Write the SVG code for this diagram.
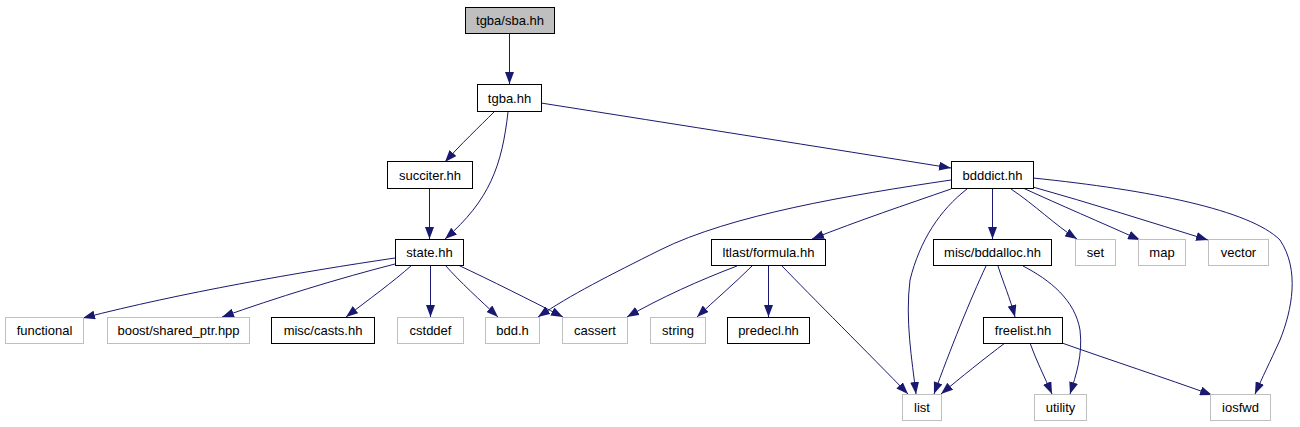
<svg xmlns="http://www.w3.org/2000/svg" width="1300" height="427" viewBox="0 0 1300 427">
<style>
.n rect{fill:#fff;stroke:#000;stroke-width:1}
.n.g rect{stroke:#bfbfbf}
.n.root rect{fill:#bfbfbf}
.n text{font-family:"Liberation Sans",Arial,sans-serif;font-size:13px;fill:#000;text-anchor:middle}
#edges path{fill:none;stroke:#191970;stroke-width:1}
</style>
<defs>
<marker id="ah" markerUnits="userSpaceOnUse" viewBox="0 0 12 9" refX="12" refY="4.5" markerWidth="12" markerHeight="9" orient="auto">
<path d="M0,0 L12,4.5 L0,9 z" fill="#191970" stroke="none"/>
</marker>
</defs>
<rect width="1300" height="427" fill="#fff"/>
<g id="edges">
<path d="M509.5,33 L509.5,84" marker-end="url(#ah)"/>
<path d="M494,112 C480,126 460,145 445,162" marker-end="url(#ah)"/>
<path d="M508,112 C502,165 490,200 445,239" marker-end="url(#ah)"/>
<path d="M429.5,189 L429.5,239" marker-end="url(#ah)"/>
<path d="M541,103 C680,125 820,147 951,168" marker-end="url(#ah)"/>
<path d="M951,180 C850,195 730,215 660,250 C610,275 570,295 538,317" marker-end="url(#ah)"/>
<path d="M951,189 C905,205 860,220 812,239" marker-end="url(#ah)"/>
<path d="M967,189 C940,210 920,240 910,280 C905,320 912,360 916,394" marker-end="url(#ah)"/>
<path d="M992.5,189 L992.5,239" marker-end="url(#ah)"/>
<path d="M1011,189 C1035,205 1055,225 1077,239" marker-end="url(#ah)"/>
<path d="M1023,188 C1060,205 1100,222 1140,240" marker-end="url(#ah)"/>
<path d="M1033,187 C1090,203 1150,222 1208,240" marker-end="url(#ah)"/>
<path d="M1033,178 C1150,190 1250,210 1280,240 C1300,270 1292,310 1280,340 C1270,362 1262,378 1255,394" marker-end="url(#ah)"/>
<path d="M986,266 C970,300 950,350 934,394" marker-end="url(#ah)"/>
<path d="M998,266 C1003,282 1010,298 1015,317" marker-end="url(#ah)"/>
<path d="M1023,266 C1050,280 1075,300 1080,330 C1083,355 1076,375 1070,394" marker-end="url(#ah)"/>
<path d="M1005,343 C985,358 960,378 941,394" marker-end="url(#ah)"/>
<path d="M1030,343 C1036,360 1045,378 1052,394" marker-end="url(#ah)"/>
<path d="M1062,343 C1110,360 1165,378 1212,395" marker-end="url(#ah)"/>
<path d="M737,266 C700,280 660,298 627,317" marker-end="url(#ah)"/>
<path d="M752,266 C735,283 715,300 697,317" marker-end="url(#ah)"/>
<path d="M768.5,266 L768.5,317" marker-end="url(#ah)"/>
<path d="M782,266 C810,295 870,355 908,394" marker-end="url(#ah)"/>
<path d="M395,258 C300,272 180,293 83,318" marker-end="url(#ah)"/>
<path d="M395,264 C340,278 275,298 222,317" marker-end="url(#ah)"/>
<path d="M412,265 C393,282 368,300 346,317" marker-end="url(#ah)"/>
<path d="M430.5,265 L430.5,317" marker-end="url(#ah)"/>
<path d="M445,265 C460,282 480,300 498,317" marker-end="url(#ah)"/>
<path d="M458,265 C490,280 530,300 563,317" marker-end="url(#ah)"/>
</g>
<g id="n_sba" class="n root"><rect x="465.5" y="7.5" width="89" height="26"/><text x="510" y="25">tgba/sba.hh</text></g>
<g id="n_tgba" class="n"><rect x="477.5" y="84.5" width="64" height="27"/><text x="509.5" y="102.5">tgba.hh</text></g>
<g id="n_succiter" class="n"><rect x="387.5" y="161.5" width="85" height="27"/><text x="430" y="179.5">succiter.hh</text></g>
<g id="n_bdddict" class="n"><rect x="951.5" y="161.5" width="82" height="27"/><text x="992.5" y="179.5">bdddict.hh</text></g>
<g id="n_state" class="n"><rect x="395.5" y="239.5" width="68" height="26"/><text x="429.5" y="257">state.hh</text></g>
<g id="n_formula" class="n"><rect x="711.5" y="239.5" width="114" height="26"/><text x="768.5" y="257">ltlast/formula.hh</text></g>
<g id="n_bddalloc" class="n"><rect x="933.5" y="239.5" width="118" height="26"/><text x="992.5" y="257">misc/bddalloc.hh</text></g>
<g id="n_set" class="n g"><rect x="1075.5" y="239.5" width="40" height="26"/><text x="1095.5" y="257">set</text></g>
<g id="n_map" class="n g"><rect x="1138.5" y="239.5" width="47" height="26"/><text x="1162" y="257">map</text></g>
<g id="n_vector" class="n g"><rect x="1208.5" y="239.5" width="60" height="26"/><text x="1238.5" y="257">vector</text></g>
<g id="n_functional" class="n g"><rect x="5.5" y="317.5" width="78" height="26"/><text x="44.5" y="335">functional</text></g>
<g id="n_boost" class="n g"><rect x="107.5" y="317.5" width="142" height="26"/><text x="178.5" y="335">boost/shared_ptr.hpp</text></g>
<g id="n_casts" class="n"><rect x="271.5" y="317.5" width="103" height="26"/><text x="323" y="335">misc/casts.hh</text></g>
<g id="n_cstddef" class="n g"><rect x="397.5" y="317.5" width="66" height="26"/><text x="430.5" y="335">cstddef</text></g>
<g id="n_bddh" class="n g"><rect x="485.5" y="317.5" width="54" height="26"/><text x="512.5" y="335">bdd.h</text></g>
<g id="n_cassert" class="n g"><rect x="562.5" y="317.5" width="65" height="26"/><text x="595" y="335">cassert</text></g>
<g id="n_string" class="n g"><rect x="650.5" y="317.5" width="55" height="26"/><text x="678" y="335">string</text></g>
<g id="n_predecl" class="n"><rect x="727.5" y="317.5" width="82" height="26"/><text x="768.5" y="335">predecl.hh</text></g>
<g id="n_freelist" class="n"><rect x="983.5" y="317.5" width="79" height="26"/><text x="1023" y="335">freelist.hh</text></g>
<g id="n_list" class="n g"><rect x="902.5" y="394.5" width="39" height="26"/><text x="922" y="412">list</text></g>
<g id="n_utility" class="n g"><rect x="1034.5" y="394.5" width="52" height="26"/><text x="1060.5" y="412">utility</text></g>
<g id="n_iosfwd" class="n g"><rect x="1210.5" y="394.5" width="60" height="26"/><text x="1240.5" y="412">iosfwd</text></g>
</svg>
